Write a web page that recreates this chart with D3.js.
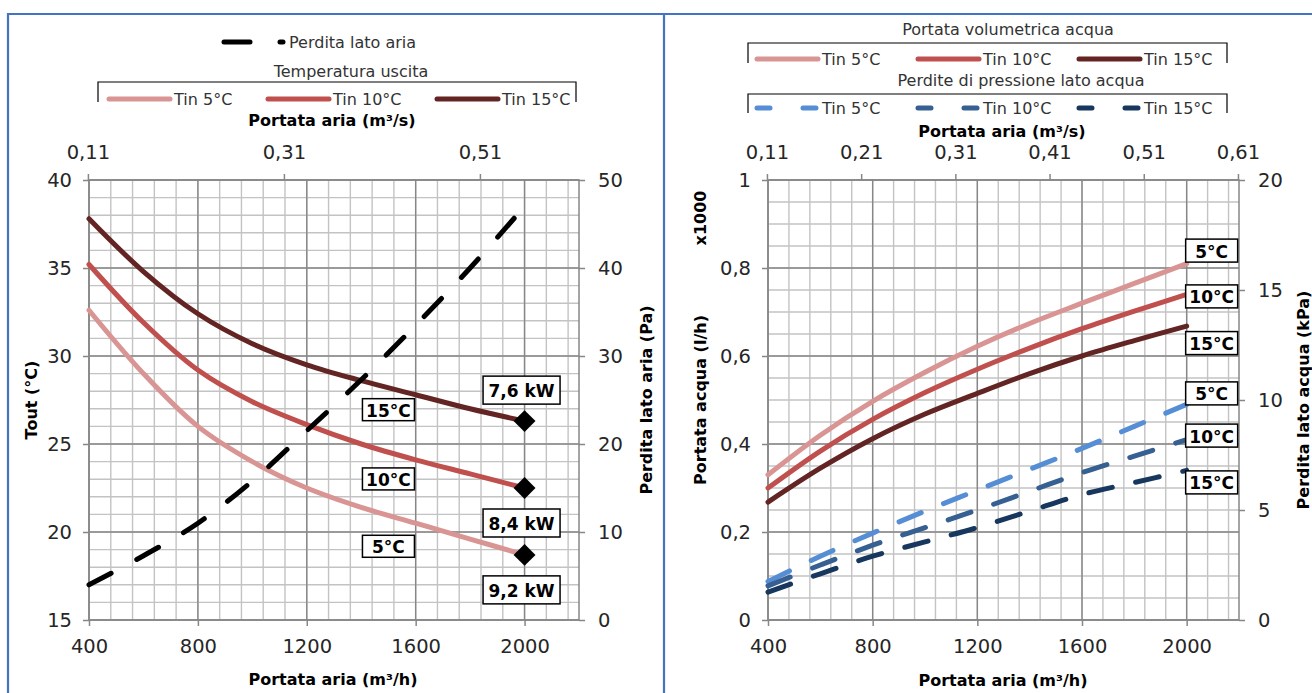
<!DOCTYPE html>
<html><head><meta charset="utf-8">
<script src="https://cdn.jsdelivr.net/npm/d3@7"></script>
<style>body{margin:0;background:#fff;} svg{display:block;font-family:"DejaVu Sans",sans-serif;}</style>
</head><body><svg id="c" width="1312" height="693"></svg>
<script>
// ---------------- DATA ----------------
const airflow = [400, 600, 800, 1000, 1200, 1400, 1600, 1800, 2000]; // m3/h
// Left chart: outlet temperature (°C)
const toutTin5  = [32.6, 29.0, 26.0, 24.0, 22.5, 21.4, 20.5, 19.6, 18.7];
const toutTin10 = [35.2, 31.9, 29.2, 27.4, 26.1, 25.0, 24.1, 23.3, 22.5];
const toutTin15 = [37.8, 34.8, 32.4, 30.7, 29.5, 28.6, 27.8, 27.0, 26.3];
// Left chart: air-side pressure drop (Pa)
const airDrop = [4.0, 7.3, 11.0, 15.8, 21.5, 27.3, 33.5, 40.0, 47.0];
// Right chart: water flow (l/h x1000)
const flowTin5  = [0.330, 0.420, 0.497, 0.563, 0.622, 0.674, 0.720, 0.765, 0.810];
const flowTin10 = [0.300, 0.384, 0.456, 0.517, 0.570, 0.618, 0.662, 0.702, 0.740];
const flowTin15 = [0.268, 0.345, 0.412, 0.468, 0.515, 0.560, 0.600, 0.635, 0.668];
// Right chart: water-side pressure drop (kPa)
const dpTin5  = [1.75, 2.90, 3.95, 4.95, 5.90, 6.85, 7.80, 8.80, 9.80];
const dpTin10 = [1.55, 2.50, 3.40, 4.20, 5.00, 5.85, 6.70, 7.45, 8.20];
const dpTin15 = [1.27, 2.10, 2.90, 3.55, 4.20, 4.95, 5.70, 6.25, 6.80];
// Capacity labels at 2000 m3/h
const capLabels = ["9,2 kW", "8,4 kW", "7,6 kW"];
const tinLabels = ["5°C", "10°C", "15°C"];
const legendTin = ["Tin 5°C", "Tin 10°C", "Tin 15°C"];
// Axis ticks
const xTicks = [400, 800, 1200, 1600, 2000];
const leftY1Ticks = [15, 20, 25, 30, 35, 40];
const leftY2Ticks = [0, 10, 20, 30, 40, 50];
const leftTopTicks = [0.11, 0.31, 0.51];
const rightY1Ticks = [0, 0.2, 0.4, 0.6, 0.8, 1];
const rightY2Ticks = [0, 5, 10, 15, 20];
const rightTopTicks = [0.11, 0.21, 0.31, 0.41, 0.51, 0.61];

// ---------------- STYLE ----------------
const redCols = ["#d99594", "#c0504d", "#632523"];
const blueCols = ["#558ed5", "#376092", "#17375e"];
const minorCol = "#c3c3c3", majorCol = "#878787", textCol = "#262626";
const FONT = '"DejaVu Sans", sans-serif';

const svg = d3.select('#c');
const fmt = v => String(+(+v).toFixed(2)).replace('.', ',');

// frame
svg.append('path').attr('d', 'M8,693 V14 H1312 M664,14 V693')
  .attr('fill', 'none').attr('stroke', '#4472c4').attr('stroke-width', 2.2);

function txt(x, y, s, o = {}) {
  const t = svg.append('text').attr('x', x).attr('y', y).attr('dy', '0.35em')
    .attr('font-size', o.size || 16).attr('font-weight', o.bold ? 'bold' : 'normal')
    .attr('fill', o.fill || textCol).attr('text-anchor', o.anchor || 'middle')
    .attr('font-family', FONT).text(s);
  if (o.rot) t.attr('transform', `rotate(-90,${x},${y})`);
  return t;
}
function box(cx, cy, w, h, s) {
  svg.append('rect').attr('x', cx - w / 2).attr('y', cy - h / 2).attr('width', w).attr('height', h)
    .attr('fill', '#fff').attr('stroke', '#000').attr('stroke-width', 1.5);
  txt(cx, cy + 1, s, { size: 17, bold: true, fill: '#000' });
}

function panel(o) {
  const x = d3.scaleLinear().domain([400, 2200]).range(o.xr);
  const xt = d3.scaleLinear().domain([400 / 3600, 2200 / 3600]).range(o.xr);
  const y1 = d3.scaleLinear().domain(o.y1d).range([620, 180]);
  const y2 = d3.scaleLinear().domain(o.y2d).range([620, 180]);
  const g = svg.append('g');
  const xm = d3.range(400, 2200, 80);
  g.selectAll(null).data(xm).join('line').attr('x1', d => x(d)).attr('x2', d => x(d))
    .attr('y1', 180).attr('y2', 620).attr('stroke', minorCol).attr('stroke-width', 1.4);
  g.selectAll(null).data(o.yMinor).join('line').attr('y1', d => y1(d)).attr('y2', d => y1(d))
    .attr('x1', o.xr[0]).attr('x2', o.xr[1]).attr('stroke', minorCol).attr('stroke-width', 1.4);
  g.selectAll(null).data(xTicks).join('line').attr('x1', d => x(d)).attr('x2', d => x(d))
    .attr('y1', 180).attr('y2', 620).attr('stroke', majorCol).attr('stroke-width', 1.4);
  g.selectAll(null).data(o.y1t).join('line').attr('y1', d => y1(d)).attr('y2', d => y1(d))
    .attr('x1', o.xr[0]).attr('x2', o.xr[1]).attr('stroke', majorCol).attr('stroke-width', 1.4);
  g.append('rect').attr('x', o.xr[0]).attr('y', 180).attr('width', o.xr[1] - o.xr[0]).attr('height', 440)
    .attr('fill', 'none').attr('stroke', majorCol).attr('stroke-width', 1.5);

  function styleAxis(sel) {
    sel.select('.domain').remove();
    sel.selectAll('.tick line').attr('stroke', majorCol).attr('stroke-width', 1.5);
    sel.selectAll('.tick text').attr('font-size', 19.5).attr('fill', textCol).attr('font-family', FONT);
  }
  svg.append('g').attr('transform', 'translate(0,620)')
    .call(d3.axisBottom(x).tickValues(xTicks).tickFormat(d => String(d)).tickSize(6).tickPadding(13)).call(styleAxis);
  svg.append('g').attr('transform', 'translate(0,180)')
    .call(d3.axisTop(xt).tickValues(o.topTicks).tickFormat(fmt).tickSize(6).tickPadding(15)).call(styleAxis);
  svg.append('g').attr('transform', `translate(${o.xr[0]},0)`)
    .call(d3.axisLeft(y1).tickValues(o.y1t).tickFormat(fmt).tickSize(6).tickPadding(11)).call(styleAxis);
  svg.append('g').attr('transform', `translate(${o.xr[1]},0)`)
    .call(d3.axisRight(y2).tickValues(o.y2t).tickFormat(fmt).tickSize(6).tickPadding(13)).call(styleAxis);
  return { x, y1, y2 };
}

// ---------------- LEFT CHART ----------------
const L = panel({ xr: [89, 579], y1d: [15, 40], y2d: [0, 50], y1t: leftY1Ticks, y2t: leftY2Ticks,
  yMinor: d3.range(15, 40.5, 1), topTicks: leftTopTicks });
const lineL = d3.line().x((d, i) => L.x(airflow[i])).y(d => L.y1(d)).curve(d3.curveCatmullRom.alpha(0.5));
const lineL2 = d3.line().x((d, i) => L.x(airflow[i])).y(d => L.y2(d)).curve(d3.curveCatmullRom.alpha(0.5));
const toutSeries = [toutTin5, toutTin10, toutTin15];
toutSeries.forEach((s, k) => {
  svg.append('path').attr('d', lineL(s)).attr('fill', 'none').attr('stroke', redCols[k])
    .attr('stroke-width', 5).attr('stroke-linecap', 'round');
});
svg.append('path').attr('d', lineL2(airDrop)).attr('fill', 'none').attr('stroke', '#000')
  .attr('stroke-width', 5).attr('stroke-linecap', 'round').attr('stroke-dasharray', '25,29');
const diamond = d3.symbol().type(d3.symbolSquare).size(240);
toutSeries.forEach((s, k) => {
  svg.append('path').attr('d', diamond()).attr('fill', '#000')
    .attr('transform', `translate(${L.x(2000)},${L.y1(s[s.length - 1])}) rotate(45)`);
});
const capDy = [35, 35, -31];
toutSeries.forEach((s, k) => box(L.x(2000) - 3, L.y1(s[s.length - 1]) + capDy[k], 77, 28, capLabels[k]));
const tinLDy = [31, 27, 22];
toutSeries.forEach((s, k) => {
  const v = (s[5] + s[6]) / 2;
  box(L.x(1500), L.y1(v) + tinLDy[k], 52, 22, tinLabels[k]);
});
// left legend
svg.append('line').attr('x1', 224).attr('x2', 283).attr('y1', 42).attr('y2', 42).attr('stroke', '#000')
  .attr('stroke-width', 5).attr('stroke-linecap', 'round').attr('stroke-dasharray', '26,30');
txt(289, 42, 'Perdita lato aria', { anchor: 'start', fill: '#333' });
txt(351, 71, 'Temperatura uscita', { fill: '#333' });
svg.append('path').attr('d', 'M98,102 V82 H576 V102').attr('fill', 'none').attr('stroke', '#000').attr('stroke-width', 1.2);
const legLX = [107, 266, 435];
legendTin.forEach((s, k) => {
  svg.append('line').attr('x1', legLX[k] + 2).attr('x2', legLX[k] + 63).attr('y1', 99).attr('y2', 99)
    .attr('stroke', redCols[k]).attr('stroke-width', 5).attr('stroke-linecap', 'round');
  txt(legLX[k] + 67, 99, s, { anchor: 'start', fill: '#333' });
});
txt(332, 120, 'Portata aria (m³/s)', { bold: true, fill: '#000' });
txt(333, 679, 'Portata aria (m³/h)', { bold: true, fill: '#000' });
txt(31, 400, 'Tout (°C)', { bold: true, fill: '#000', rot: true });
txt(646, 400, 'Perdita lato aria (Pa)', { bold: true, fill: '#000', rot: true });

// ---------------- RIGHT CHART ----------------
const R = panel({ xr: [768, 1239], y1d: [0, 1], y2d: [0, 20], y1t: rightY1Ticks, y2t: rightY2Ticks,
  yMinor: d3.range(0, 1.001, 0.05), topTicks: rightTopTicks });
const lineR = d3.line().x((d, i) => R.x(airflow[i])).y(d => R.y1(d)).curve(d3.curveCatmullRom.alpha(0.5));
const lineR2 = d3.line().x((d, i) => R.x(airflow[i])).y(d => R.y2(d)).curve(d3.curveCatmullRom.alpha(0.5));
const flowSeries = [flowTin5, flowTin10, flowTin15];
const dpSeries = [dpTin5, dpTin10, dpTin15];
flowSeries.forEach((s, k) => {
  svg.append('path').attr('d', lineR(s)).attr('fill', 'none').attr('stroke', redCols[k])
    .attr('stroke-width', 5).attr('stroke-linecap', 'round');
});
dpSeries.forEach((s, k) => {
  svg.append('path').attr('d', lineR2(s)).attr('fill', 'none').attr('stroke', blueCols[k])
    .attr('stroke-width', 5).attr('stroke-linecap', 'round').attr('stroke-dasharray', '24,24');
});
const flowDy = [-13, 2, 17], dpDy = [-11, -4, 12];
flowSeries.forEach((s, k) => box(R.x(2000) + 25, R.y1(s[s.length - 1]) + flowDy[k], 52, 23, tinLabels[k]));
dpSeries.forEach((s, k) => box(R.x(2000) + 25, R.y2(s[s.length - 1]) + dpDy[k], 52, 23, tinLabels[k]));
// right legend
txt(1008, 29, 'Portata volumetrica acqua', { fill: '#333' });
svg.append('path').attr('d', 'M748,63 V43 H1227 V63').attr('fill', 'none').attr('stroke', '#000').attr('stroke-width', 1.2);
txt(1021, 80, 'Perdite di pressione lato acqua', { fill: '#333' });
svg.append('path').attr('d', 'M748,113 V94 H1227 V113').attr('fill', 'none').attr('stroke', '#000').attr('stroke-width', 1.2);
const legRX = [755, 916, 1077];
legendTin.forEach((s, k) => {
  svg.append('line').attr('x1', legRX[k] + 2).attr('x2', legRX[k] + 63).attr('y1', 59).attr('y2', 59)
    .attr('stroke', redCols[k]).attr('stroke-width', 5).attr('stroke-linecap', 'round');
  txt(legRX[k] + 67, 59, s, { anchor: 'start', fill: '#333' });
  svg.append('line').attr('x1', legRX[k] + 2).attr('x2', legRX[k] + 63).attr('y1', 108).attr('y2', 108)
    .attr('stroke', blueCols[k]).attr('stroke-width', 5).attr('stroke-linecap', 'round').attr('stroke-dasharray', '13,33');
  txt(legRX[k] + 67, 108, s, { anchor: 'start', fill: '#333' });
});
txt(1002, 131, 'Portata aria (m³/s)', { bold: true, fill: '#000' });
txt(1003, 680, 'Portata aria (m³/h)', { bold: true, fill: '#000' });
txt(700, 400, 'Portata acqua (l/h)', { bold: true, fill: '#000', rot: true });
txt(700, 218, 'x1000', { bold: true, fill: '#000', rot: true });
txt(1303, 400, 'Perdita lato acqua (kPa)', { bold: true, fill: '#000', rot: true });
</script></body></html>
